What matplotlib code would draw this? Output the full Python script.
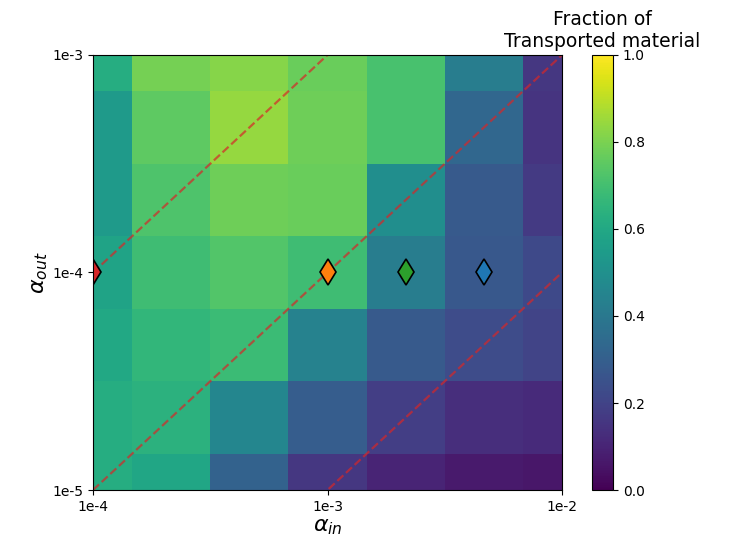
import numpy as np
import matplotlib
matplotlib.use("Agg")
import matplotlib.pyplot as plt

# cell centres (log-spaced)
alpha_in = [1e-4, 10**-3.667, 10**-3.333, 1e-3, 10**-2.667, 10**-2.333, 1e-2]
alpha_out = [1e-5, 10**-4.667, 10**-4.333, 1e-4, 10**-3.667, 10**-3.333, 1e-3]

# fraction of transported material, rows = alpha_out (bottom -> top)
frac_row_1e5   = [0.62, 0.59, 0.31, 0.16, 0.10, 0.07, 0.06]
frac_row_2e5   = [0.62, 0.64, 0.46, 0.29, 0.18, 0.13, 0.12]
frac_row_5e5   = [0.60, 0.66, 0.68, 0.44, 0.28, 0.23, 0.20]
frac_row_1e4   = [0.58, 0.69, 0.73, 0.69, 0.42, 0.27, 0.22]
frac_row_2e4   = [0.54, 0.72, 0.78, 0.77, 0.49, 0.28, 0.17]
frac_row_5e4   = [0.54, 0.75, 0.84, 0.78, 0.71, 0.33, 0.15]
frac_row_1e3   = [0.62, 0.79, 0.82, 0.77, 0.71, 0.42, 0.16]

# selected points
pts_x = [1e-4, 1e-3, 10**-2.667, 10**-2.333]
pts_y = [1e-4, 1e-4, 1e-4, 1e-4]
pts_c = ['tab:red', 'tab:orange', 'tab:green', 'tab:blue']

# diagonal ratios alpha_out / alpha_in
ratios = [1.0, 0.1, 0.01]

Z = np.array([frac_row_1e5, frac_row_2e5, frac_row_5e5, frac_row_1e4,
              frac_row_2e4, frac_row_5e4, frac_row_1e3])


def log_edges(c):
    lc = np.log10(np.asarray(c))
    mid = (lc[:-1] + lc[1:]) / 2
    e = np.concatenate([[lc[0] - (mid[0] - lc[0])], mid,
                        [lc[-1] + (lc[-1] - mid[-1])]])
    return 10 ** e


fig = plt.figure(figsize=(7.37, 5.52), dpi=100)
ax = fig.add_axes([0.1262, 0.1123, 0.6364, 0.7881])
cax = fig.add_axes([0.8033, 0.1123, 0.0285, 0.7881])

mesh = ax.pcolormesh(log_edges(alpha_in), log_edges(alpha_out), Z,
                     cmap='viridis', vmin=0, vmax=1)
ax.set_xscale('log')
ax.set_yscale('log')

xx = np.array([1e-4, 1e-2])
for r in ratios:
    ax.plot(xx, xx * r, '--', color='tab:red', alpha=0.7, lw=1.6)

for x, y, c in zip(pts_x, pts_y, pts_c):
    ax.plot(x, y, marker='d', ms=13, color=c, mec='black', mew=1.2, ls='none')

ax.set_xlim(1e-4, 1e-2)
ax.set_ylim(1e-5, 1e-3)
ax.set_xticks([1e-4, 1e-3, 1e-2])
ax.set_xticklabels(['1e-4', '1e-3', '1e-2'])
ax.set_yticks([1e-5, 1e-4, 1e-3])
ax.set_yticklabels(['1e-5', '1e-4', '1e-3'])
ax.minorticks_off()
ax.tick_params(labelsize=10)
ax.set_xlabel(r'$\alpha_{in}$', fontsize=16, labelpad=2)
ax.set_ylabel(r'$\alpha_{out}$', fontsize=16, labelpad=2)

cb = fig.colorbar(mesh, cax=cax)
cb.set_ticks([0, 0.2, 0.4, 0.6, 0.8, 1.0])
cb.ax.tick_params(labelsize=10)
cax.set_title('Fraction of\nTransported material', fontsize=13.5)

fig.savefig('out.png', dpi=100)
